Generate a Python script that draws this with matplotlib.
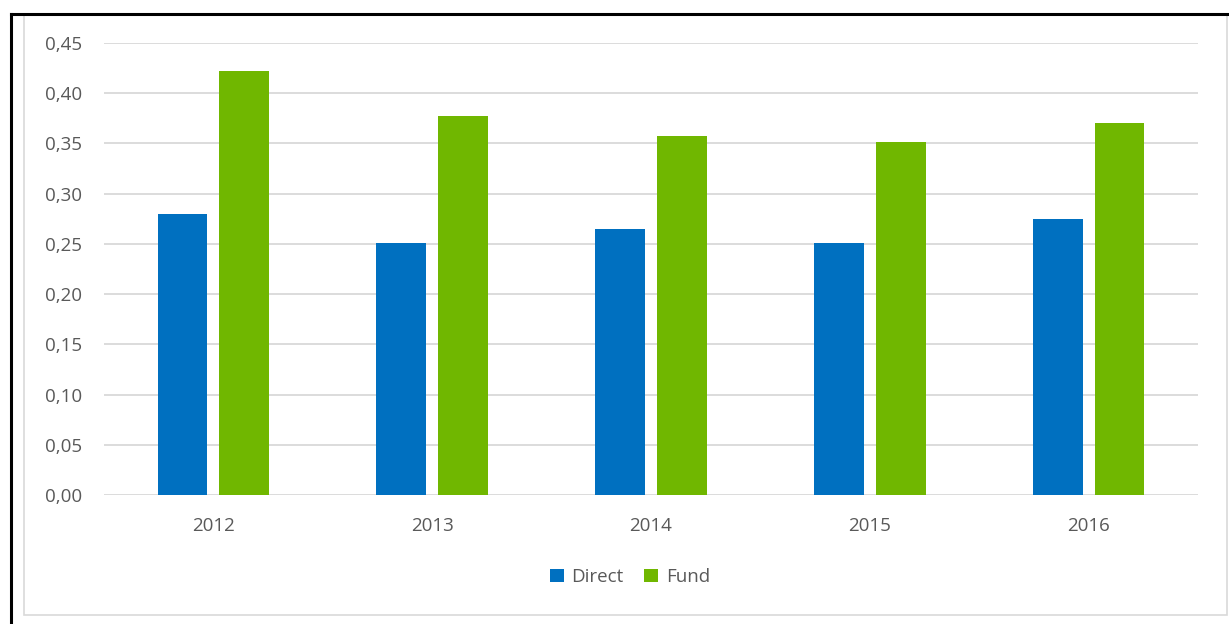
import matplotlib
matplotlib.use("Agg")
import matplotlib.pyplot as plt
from matplotlib.ticker import FuncFormatter, MultipleLocator
from matplotlib.lines import Line2D
from matplotlib.patches import Rectangle, Patch
import numpy as np

years = ["2012", "2013", "2014", "2015", "2016"]
direct = [0.280, 0.251, 0.265, 0.251, 0.275]
fund = [0.422, 0.377, 0.357, 0.351, 0.370]

BLUE = "#0070C0"
GREEN = "#70B700"
TEXT = "#595959"
GRID = "#D9D9D9"

plt.rcParams["font.family"] = ["Open Sans", "DejaVu Sans"]

W, H = 1229, 624
fig = plt.figure(figsize=(W / 100, H / 100), dpi=100)
fig.patch.set_facecolor("white")

# outer chart frame
fig.add_artist(Rectangle((24 / W, 1 - 615 / H), (1227 - 24) / W, (615 - 15) / H,
                         transform=fig.transFigure, fill=False,
                         edgecolor="#D9D9D9", linewidth=1.2))
fig.add_artist(Line2D([11 / W, 11 / W], [0, 1 - 14 / H], transform=fig.transFigure,
                      color="black", linewidth=2.2))
fig.add_artist(Line2D([11 / W, 1], [1 - 14 / H, 1 - 14 / H], transform=fig.transFigure,
                      color="black", linewidth=2.2))

ax = fig.add_axes([104 / W, 1 - 495 / H, (1198 - 104) / W, (495 - 43) / H])

x = np.arange(len(years))
bw = 0.228
off = 0.141
ax.bar(x - off, direct, width=bw, color=BLUE, zorder=3, label="Direct")
ax.bar(x + off, fund, width=bw, color=GREEN, zorder=3, label="Fund")

ax.set_xlim(-0.5, len(years) - 0.5)
ax.set_ylim(0, 0.45)
ax.yaxis.set_major_locator(MultipleLocator(0.05))
ax.yaxis.set_major_formatter(FuncFormatter(lambda v, p: f"{v:.2f}".replace(".", ",")))
ax.set_xticks(x)
ax.set_xticklabels(years)

ax.grid(axis="y", color=GRID, linewidth=1.3, zorder=0)
ax.set_axisbelow(True)
for s in ax.spines.values():
    s.set_visible(False)
ax.tick_params(axis="both", length=0, colors=TEXT, labelsize=13.5)
ax.tick_params(axis="y", pad=16)
ax.tick_params(axis="x", pad=16)

handles = [Patch(facecolor=BLUE, label="Direct"), Patch(facecolor=GREEN, label="Fund")]
fig.legend(handles=handles, loc="center", bbox_to_anchor=(630 / W, 1 - 577 / H),
           ncol=2, frameon=False, fontsize=13.5, labelcolor=TEXT,
           handlelength=0.75, handleheight=0.75, handletextpad=0.4, columnspacing=1.1)

fig.savefig("out.png", dpi=100, facecolor="white")
